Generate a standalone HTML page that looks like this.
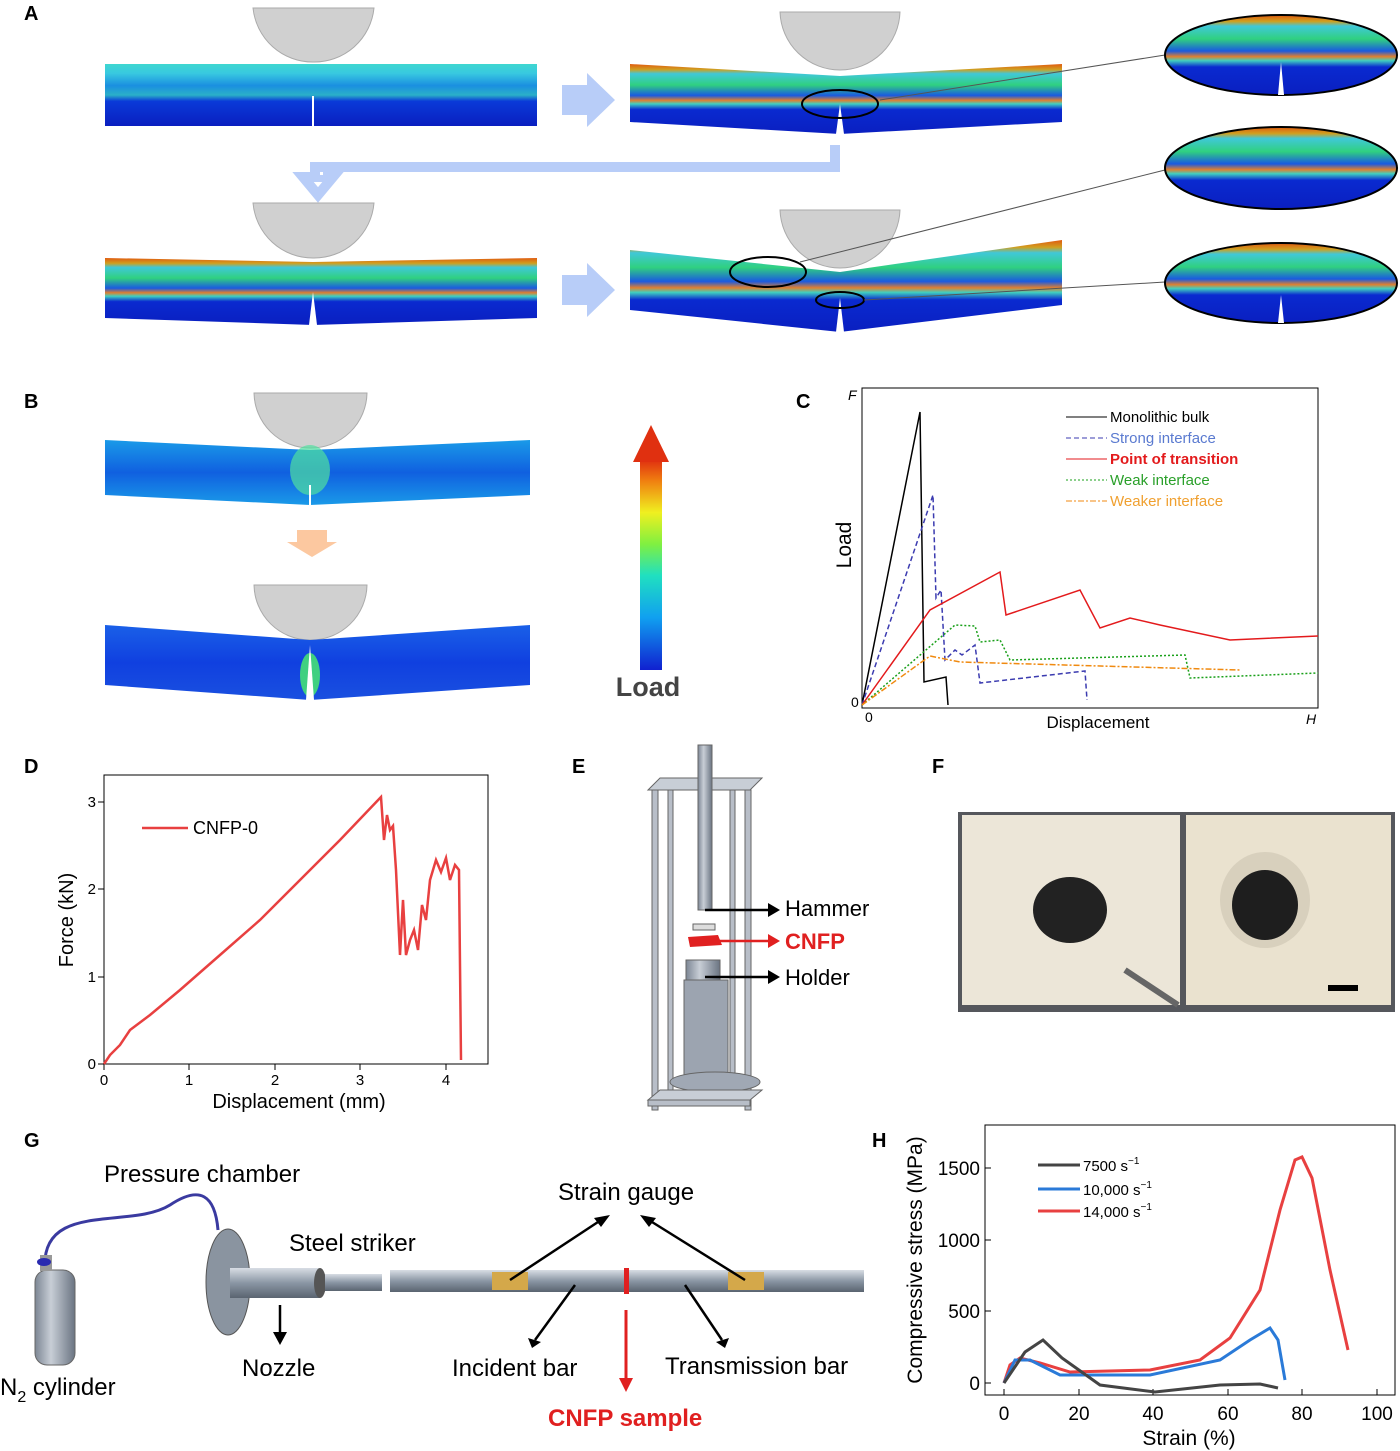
<!DOCTYPE html>
<html><head><meta charset="utf-8"><style>
html,body{margin:0;padding:0;background:#fff}
svg{display:block;font-family:"Liberation Sans",Arial,sans-serif}
</style></head><body>
<svg width="1400" height="1451" viewBox="0 0 1400 1451" xmlns="http://www.w3.org/2000/svg">
<defs>
<linearGradient id="beam" x1="0" y1="0" x2="0" y2="1">
<stop offset="0" stop-color="#3fd7d0"/><stop offset="0.15" stop-color="#38c9e0"/><stop offset="0.35" stop-color="#1a8fe0"/><stop offset="0.5" stop-color="#2bb0c8"/><stop offset="0.6" stop-color="#0a3ad8"/><stop offset="1" stop-color="#0a1fc0"/></linearGradient>
<linearGradient id="beam2" x1="0" y1="0" x2="0" y2="1">
<stop offset="0" stop-color="#e05a10"/><stop offset="0.08" stop-color="#d0a020"/><stop offset="0.14" stop-color="#40c8d8"/><stop offset="0.3" stop-color="#30d080"/><stop offset="0.45" stop-color="#1a5ae0"/><stop offset="0.52" stop-color="#e08030"/><stop offset="0.57" stop-color="#40d0c0"/><stop offset="0.65" stop-color="#0a2ad0"/><stop offset="1" stop-color="#0a1fc0"/></linearGradient>
<linearGradient id="bbeam" x1="0" y1="0" x2="0" y2="1">
<stop offset="0" stop-color="#1a9ae8"/><stop offset="0.5" stop-color="#1060e0"/><stop offset="1" stop-color="#1a9ae8"/></linearGradient>
<linearGradient id="bbeam2" x1="0" y1="0" x2="0" y2="1">
<stop offset="0" stop-color="#1a60e8"/><stop offset="0.5" stop-color="#1040e0"/><stop offset="1" stop-color="#1a50e0"/></linearGradient>
<linearGradient id="cbar" x1="0" y1="1" x2="0" y2="0">
<stop offset="0" stop-color="#1020d0"/><stop offset="0.25" stop-color="#10a0f0"/><stop offset="0.45" stop-color="#20e0c0"/><stop offset="0.6" stop-color="#80f040"/><stop offset="0.75" stop-color="#f0f020"/><stop offset="0.9" stop-color="#f08010"/><stop offset="1" stop-color="#e03010"/></linearGradient>
<linearGradient id="bar" x1="0" y1="0" x2="0" y2="1"><stop offset="0" stop-color="#d8dde4"/><stop offset="0.5" stop-color="#8a96a4"/><stop offset="1" stop-color="#5a6470"/></linearGradient>
<linearGradient id="cyl" x1="0" y1="0" x2="1" y2="0"><stop offset="0" stop-color="#7c8694"/><stop offset="0.4" stop-color="#c8ced6"/><stop offset="1" stop-color="#6a7482"/></linearGradient>
</defs>
<g font-weight="bold" font-size="20" fill="#000">
<text x="24" y="20">A</text><text x="24" y="408">B</text><text x="796" y="408">C</text><text x="24" y="773">D</text><text x="572" y="773">E</text><text x="932" y="773">F</text><text x="24" y="1147">G</text><text x="872" y="1147">H</text></g>

<!-- Panel A beams -->
<g>
<path d="M313,62 A60,60 0 0 1 253,8 L374,8 A60,60 0 0 1 313,62Z" fill="#d0d0d0" stroke="#aaa"/>
<rect x="105" y="64" width="432" height="62" fill="url(#beam)"/>
<line x1="313" y1="96" x2="313" y2="126" stroke="#fff" stroke-width="2"/>
<path d="M562,85 h25 v-12 l28,27 l-28,27 v-12 h-25z" fill="#b8cdf8"/>
<path d="M840,70 A60,60 0 0 1 780,12 L900,12 A60,60 0 0 1 840,70Z" fill="#d0d0d0" stroke="#aaa"/>
<path d="M630,64 L840,76 L1062,64 L1062,122 L840,134 L630,122Z" fill="url(#beam2)"/>
<path d="M836,134 L840,104 L844,134Z" fill="#fff"/>
<ellipse cx="840" cy="104" rx="38" ry="14" fill="none" stroke="#000" stroke-width="2"/>
<line x1="880" y1="100" x2="1165" y2="55" stroke="#555"/>
<path d="M835,145 v22 H315 v10 h-12 l15,18 l15,-18 h-10 v-2" fill="none" stroke="#b8cdf8" stroke-width="10"/>
<path d="M313,258 A60,60 0 0 1 253,203 L374,203 A60,60 0 0 1 313,258Z" fill="#d0d0d0" stroke="#aaa"/>
<path d="M105,258 L313,262 L537,258 L537,318 L313,325 L105,318Z" fill="url(#beam2)"/>
<path d="M309,325 L313,292 L317,325Z" fill="#fff"/>
<path d="M562,275 h25 v-12 l28,27 l-28,27 v-12 h-25z" fill="#b8cdf8"/>
<path d="M840,268 A60,60 0 0 1 780,210 L900,210 A60,60 0 0 1 840,268Z" fill="#d0d0d0" stroke="#aaa"/>
<path d="M630,250 L840,272 L1062,240 L1062,305 L840,332 L630,310Z" fill="url(#beam2)"/>
<path d="M836,332 L840,298 L844,332Z" fill="#fff"/>
<ellipse cx="768" cy="272" rx="38" ry="15" fill="none" stroke="#000" stroke-width="2"/>
<ellipse cx="840" cy="300" rx="24" ry="8" fill="none" stroke="#000" stroke-width="2"/>
<line x1="800" y1="262" x2="1165" y2="170" stroke="#555"/>
<line x1="864" y1="300" x2="1165" y2="282" stroke="#555"/>
<ellipse cx="1281" cy="55" rx="116" ry="40" fill="url(#beam2)" stroke="#000" stroke-width="2"/>
<ellipse cx="1281" cy="168" rx="116" ry="41" fill="url(#beam2)" stroke="#000" stroke-width="2"/>
<ellipse cx="1281" cy="283" rx="116" ry="40" fill="url(#beam2)" stroke="#000" stroke-width="2"/>
<path d="M1278,95 L1281,62 L1284,95Z" fill="#fff"/>
<path d="M1278,323 L1281,295 L1284,323Z" fill="#fff"/>
</g>

<!-- Panel B -->
<path d="M310,448 A56,56 0 0 1 254,393 L367,393 A56,56 0 0 1 310,448Z" fill="#d0d0d0" stroke="#aaa"/>
<path d="M105,440 L310,450 L530,440 L530,495 L310,505 L105,495Z" fill="url(#bbeam)"/>
<ellipse cx="310" cy="470" rx="20" ry="25" fill="#50e0a0" opacity="0.7"/>
<line x1="310" y1="485" x2="310" y2="505" stroke="#fff" stroke-width="2"/>
<path d="M287,542 h50 l-25,15z" fill="#fcc8a0"/><rect x="297" y="530" width="30" height="12" fill="#fcc8a0"/>
<path d="M310,640 A56,56 0 0 1 254,585 L367,585 A56,56 0 0 1 310,640Z" fill="#d0d0d0" stroke="#aaa"/>
<path d="M105,625 L310,640 L530,625 L530,685 L310,700 L105,685Z" fill="url(#bbeam2)"/>
<ellipse cx="310" cy="675" rx="10" ry="22" fill="#40d080"/>
<path d="M306,700 L310,645 L314,700Z" fill="#fff"/>
<rect x="640" y="460" width="22" height="210" fill="url(#cbar)"/>
<path d="M633,462 L651,425 L669,462Z" fill="#e03010"/>
<text x="648" y="696" text-anchor="middle" font-size="27" font-weight="bold" fill="#444">Load</text>

<!-- Panel C -->
<rect x="862" y="388" width="456" height="320" fill="none" stroke="#000"/>
<text x="848" y="400" font-size="14" font-style="italic">F</text>
<text x="851" y="707" font-size="14">0</text><text x="865" y="722" font-size="14">0</text>
<text x="1306" y="724" font-size="14" font-style="italic">H</text>
<text x="1098" y="728" font-size="17" text-anchor="middle">Displacement</text>
<text transform="translate(851,545) rotate(-90)" font-size="21" text-anchor="middle">Load</text>
<g fill="none" stroke-width="1.5">
<polyline stroke="#000" points="862,705 920,412 924,682 946,677 948,705"/>
<polyline stroke="#3b3bb0" stroke-dasharray="5,3" points="862,705 933,495 936,598 941,590 945,660 955,650 962,655 975,645 980,683 1085,671 1087,700"/>
<polyline stroke="#e31a1c" points="862,705 930,610 1000,572 1006,615 1080,590 1100,628 1130,618 1160,625 1230,640 1318,636"/>
<polyline stroke="#1aa01a" stroke-dasharray="2,2" points="862,705 955,625 975,626 980,642 1000,640 1010,660 1185,655 1190,678 1318,673"/>
<polyline stroke="#f08a10" stroke-dasharray="6,2,2,2" points="862,705 930,656 960,662 1240,670"/>
</g>
<g font-size="15">
<line x1="1066" y1="417" x2="1107" y2="417" stroke="#000"/><text x="1110" y="422">Monolithic bulk</text>
<line x1="1066" y1="438" x2="1107" y2="438" stroke="#3b3bb0" stroke-dasharray="5,3"/><text x="1110" y="443" fill="#5a7ad0">Strong interface</text>
<line x1="1066" y1="459" x2="1107" y2="459" stroke="#e31a1c"/><text x="1110" y="464" fill="#e31a1c" font-weight="bold">Point of transition</text>
<line x1="1066" y1="480" x2="1107" y2="480" stroke="#1aa01a" stroke-dasharray="2,2"/><text x="1110" y="485" fill="#2aa02a">Weak interface</text>
<line x1="1066" y1="501" x2="1107" y2="501" stroke="#f08a10" stroke-dasharray="6,2,2,2"/><text x="1110" y="506" fill="#f0a030">Weaker interface</text>
</g>

<!-- Panel D -->
<rect x="104" y="775" width="384" height="289" fill="none" stroke="#000"/>
<g stroke="#000">
<line x1="104" y1="1064" x2="104" y2="1070"/><line x1="189" y1="1064" x2="189" y2="1070"/><line x1="275" y1="1064" x2="275" y2="1070"/><line x1="360" y1="1064" x2="360" y2="1070"/><line x1="446" y1="1064" x2="446" y2="1070"/>
<line x1="98" y1="1064" x2="104" y2="1064"/><line x1="98" y1="977" x2="104" y2="977"/><line x1="98" y1="889" x2="104" y2="889"/><line x1="98" y1="802" x2="104" y2="802"/>
</g>
<g font-size="15" text-anchor="middle"><text x="104" y="1085">0</text><text x="189" y="1085">1</text><text x="275" y="1085">2</text><text x="360" y="1085">3</text><text x="446" y="1085">4</text></g>
<g font-size="15" text-anchor="end"><text x="96" y="1069">0</text><text x="96" y="982">1</text><text x="96" y="894">2</text><text x="96" y="807">3</text></g>
<text x="299" y="1108" font-size="20" text-anchor="middle">Displacement (mm)</text>
<text transform="translate(73,920) rotate(-90)" font-size="20" text-anchor="middle">Force (kN)</text>
<line x1="142" y1="828" x2="188" y2="828" stroke="#e84040" stroke-width="2.5"/><text x="193" y="834" font-size="18">CNFP-0</text>
<polyline fill="none" stroke="#e84040" stroke-width="2.5" points="104,1064 110,1055 120,1045 130,1030 150,1015 180,990 220,955 260,920 300,880 340,840 381,797 384,840 387,815 390,830 393,826 396,870 400,955 403,900 406,955 410,940 414,930 418,950 422,905 426,920 430,880 436,860 441,872 446,858 450,880 455,865 459,870 461,1060"/>

<!-- Panel E -->
<g stroke="#666" fill="#b8bec8">
<path d="M648,790 L660,778 L762,778 L750,790Z" fill="#c8ced6"/>
<rect x="652" y="790" width="6" height="320"/><rect x="745" y="790" width="6" height="320"/>
<rect x="668" y="790" width="5" height="300"/><rect x="730" y="790" width="5" height="300"/>
<rect x="698" y="745" width="14" height="165" fill="url(#cyl)"/>
<rect x="686" y="960" width="34" height="20" fill="url(#cyl)"/>
<rect x="684" y="980" width="44" height="100" fill="#9ca4b0"/>
<ellipse cx="715" cy="1082" rx="45" ry="10" fill="#a0a8b4"/>
<path d="M648,1100 L660,1090 L762,1090 L750,1100Z" fill="#c8ced6"/>
<rect x="648" y="1100" width="102" height="6"/>
</g>
<path d="M688,937 L718,935 L722,945 L690,947Z" fill="#e02020"/>
<rect x="693" y="924" width="22" height="6" fill="#ddd" stroke="#666"/>
<g stroke-width="2.5">
<line x1="705" y1="910" x2="770" y2="910" stroke="#000"/><path d="M768,903 L780,910 L768,917Z"/>
<line x1="705" y1="941" x2="770" y2="941" stroke="#e02020"/><path d="M768,934 L780,941 L768,948Z" fill="#e02020"/>
<line x1="705" y1="977" x2="770" y2="977" stroke="#000"/><path d="M768,970 L780,977 L768,984Z"/>
</g>
<text x="785" y="916" font-size="22">Hammer</text>
<text x="785" y="949" font-size="22" fill="#e02020" font-weight="bold">CNFP</text>
<text x="785" y="985" font-size="22">Holder</text>

<!-- Panel F photo -->
<rect x="958" y="812" width="437" height="200" fill="#55575c"/>
<rect x="962" y="815" width="218" height="190" fill="#ece6d8"/>
<rect x="1186" y="815" width="205" height="190" fill="#eae2cf"/>
<ellipse cx="1070" cy="910" rx="37" ry="33" fill="#222"/>
<ellipse cx="1265" cy="900" rx="45" ry="48" fill="#d8d0bd"/>
<ellipse cx="1265" cy="905" rx="33" ry="35" fill="#1e1e1e"/>
<line x1="1125" y1="970" x2="1178" y2="1005" stroke="#666" stroke-width="6"/>
<rect x="1328" y="985" width="30" height="6" fill="#000"/>

<!-- Panel G -->
<path d="M45,1270 C40,1200 130,1230 170,1205 C200,1185 215,1195 218,1230" fill="none" stroke="#3a3aa0" stroke-width="3"/>
<rect x="35" y="1270" width="40" height="95" rx="12" fill="url(#cyl)" stroke="#666"/>
<rect x="40" y="1255" width="12" height="16" fill="#999"/><ellipse cx="44" cy="1262" rx="7" ry="4" fill="#2a2ab0"/>
<ellipse cx="228" cy="1282" rx="22" ry="53" fill="#8a94a0" stroke="#555"/>
<rect x="230" y="1268" width="90" height="30" fill="url(#bar)"/>
<ellipse cx="320" cy="1283" rx="6" ry="15" fill="#555"/>
<rect x="325" y="1274" width="57" height="17" fill="url(#bar)"/>
<rect x="390" y="1270" width="236" height="22" fill="url(#bar)"/>
<rect x="629" y="1270" width="235" height="22" fill="url(#bar)"/>
<rect x="624" y="1268" width="5" height="26" fill="#e02020"/>
<rect x="492" y="1272" width="36" height="18" fill="#d4a84a"/>
<rect x="728" y="1272" width="36" height="18" fill="#d4a84a"/>
<g stroke="#000" stroke-width="2.5" fill="none">
<line x1="280" y1="1305" x2="280" y2="1335"/><line x1="510" y1="1280" x2="598" y2="1222"/><line x1="745" y1="1280" x2="652" y2="1222"/>
<line x1="575" y1="1285" x2="535" y2="1340"/><line x1="685" y1="1285" x2="722" y2="1340"/></g>
<path d="M273,1332 L280,1345 L287,1332Z"/><path d="M610,1215 L594,1218 L601,1227Z"/><path d="M640,1215 L656,1218 L649,1227Z"/>
<path d="M528,1338 L532,1348 L541,1342Z"/><path d="M729,1338 L725,1348 L716,1342Z"/>
<line x1="626" y1="1310" x2="626" y2="1380" stroke="#e02020" stroke-width="3"/><path d="M619,1378 L626,1392 L633,1378Z" fill="#e02020"/>
<g font-size="24">
<text x="104" y="1182">Pressure chamber</text><text x="289" y="1251">Steel striker</text>
<text x="558" y="1200">Strain gauge</text><text x="242" y="1376">Nozzle</text>
<text x="452" y="1376">Incident bar</text><text x="665" y="1374">Transmission bar</text>
<text x="0" y="1395">N<tspan font-size="16" dy="7">2</tspan><tspan dy="-7"> cylinder</tspan></text>
<text x="548" y="1426" fill="#e02020" font-weight="bold">CNFP sample</text></g>

<!-- Panel H -->
<rect x="985" y="1125" width="410" height="270" fill="none" stroke="#000"/>
<g stroke="#000">
<line x1="1004" y1="1395" x2="1004" y2="1389"/><line x1="1079" y1="1395" x2="1079" y2="1389"/><line x1="1153" y1="1395" x2="1153" y2="1389"/><line x1="1228" y1="1395" x2="1228" y2="1389"/><line x1="1302" y1="1395" x2="1302" y2="1389"/><line x1="1377" y1="1395" x2="1377" y2="1389"/>
<line x1="985" y1="1383" x2="991" y2="1383"/><line x1="985" y1="1311" x2="991" y2="1311"/><line x1="985" y1="1240" x2="991" y2="1240"/><line x1="985" y1="1168" x2="991" y2="1168"/></g>
<g font-size="19" text-anchor="middle"><text x="1004" y="1420">0</text><text x="1079" y="1420">20</text><text x="1153" y="1420">40</text><text x="1228" y="1420">60</text><text x="1302" y="1420">80</text><text x="1377" y="1420">100</text></g>
<g font-size="19" text-anchor="end"><text x="980" y="1390">0</text><text x="980" y="1318">500</text><text x="980" y="1247">1000</text><text x="980" y="1175">1500</text></g>
<text x="1189" y="1445" font-size="21" text-anchor="middle">Strain (%)</text>
<text transform="translate(922,1260) rotate(-90)" font-size="21" text-anchor="middle">Compressive stress (MPa)</text>
<g fill="none" stroke-width="3">
<polyline stroke="#e84040" points="1004,1383 1010,1365 1020,1358 1040,1363 1070,1372 1150,1370 1200,1360 1230,1338 1260,1290 1280,1210 1295,1160 1302,1157 1312,1178 1330,1270 1348,1350"/>
<polyline stroke="#2a7ad8" points="1004,1383 1015,1360 1030,1360 1060,1375 1150,1375 1220,1360 1250,1340 1270,1328 1278,1340 1285,1380"/>
<polyline stroke="#444" points="1004,1383 1025,1352 1043,1340 1062,1358 1100,1385 1155,1392 1220,1385 1260,1384 1278,1388"/>
</g>
<g font-size="15">
<line x1="1038" y1="1165" x2="1080" y2="1165" stroke="#444" stroke-width="3"/><text x="1083" y="1171">7500 s<tspan font-size="10" dy="-7">−1</tspan></text>
<line x1="1038" y1="1189" x2="1080" y2="1189" stroke="#2a7ad8" stroke-width="3"/><text x="1083" y="1195">10,000 s<tspan font-size="10" dy="-7">−1</tspan></text>
<line x1="1038" y1="1211" x2="1080" y2="1211" stroke="#e84040" stroke-width="3"/><text x="1083" y="1217">14,000 s<tspan font-size="10" dy="-7">−1</tspan></text>
</g>
</svg>
</body></html>
